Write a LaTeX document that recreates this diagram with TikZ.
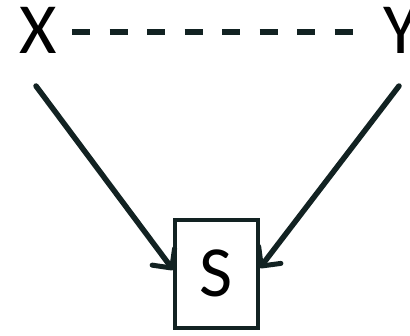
\documentclass[tikz,border=0pt]{standalone}
\usepackage{fontspec}
\setmainfont{Carlito}
\usetikzlibrary{arrows.meta}
\definecolor{ink}{RGB}{18,34,34}
\begin{document}
\begin{tikzpicture}[x=1pt,y=-1pt,
  lbl/.style={inner sep=0pt, font=\fontsize{72}{72}\selectfont, anchor=base},
  conn/.style={draw=ink, line width=5.5pt, line cap=round, -{Straight Barb[length=14pt,width=28pt,line width=5pt,round]}},
  boxnode/.style={draw=ink, line width=3.5pt, minimum width=83pt, minimum height=108pt, inner sep=0pt}]
\useasboundingbox (0,0) rectangle (410,335);
\node[lbl] (X) at (38,53) {X};
\node[lbl] (Y) at (401,53) {Y};
\node[boxnode] (S) at (216.5,274) {};
\node[lbl] at (216.5,296) {S};
\coordinate (xs) at (36,86);
\coordinate (ys) at (399,86);
\coordinate (de) at (72,32);
\coordinate (df) at (357,32);
\draw[ink, line width=5.5pt, dash pattern=on 18pt off 19.5pt] (de) -- (df);
\draw[conn] (xs) -- ([yshift=4pt]S.west);
\draw[conn] (ys) -- ([yshift=6pt]S.east);
\end{tikzpicture}
\end{document}
